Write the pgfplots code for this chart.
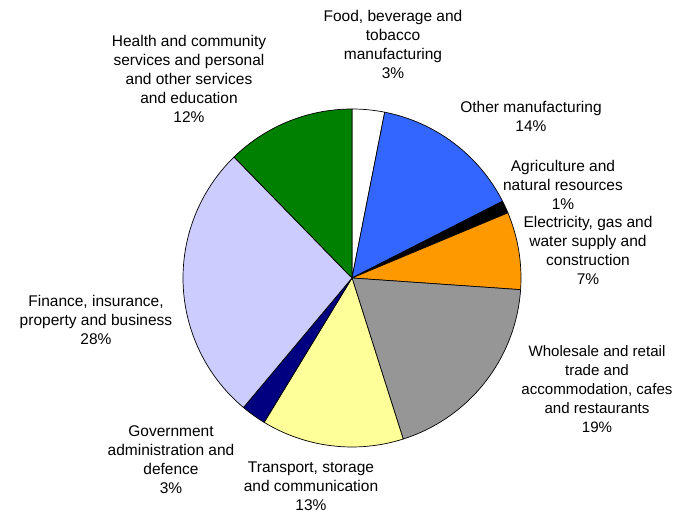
\documentclass[border=0pt]{standalone}
\usepackage{pgfplots}
\usepackage{pgfplotstable}
\pgfplotsset{compat=1.18}
\usepackage{fontspec}
\setmainfont{Liberation Sans}
\definecolor{cManuf}{HTML}{3366FF}
\definecolor{cElec}{HTML}{FF9900}
\definecolor{cWhole}{HTML}{969696}
\definecolor{cTrans}{HTML}{FFFF99}
\definecolor{cGov}{HTML}{000080}
\definecolor{cFin}{HTML}{CCCCFF}
\definecolor{cHealth}{HTML}{008000}

% shares of the pie, clockwise from 12 o'clock (as drawn)
\pgfplotstableread{
value colour
3.1  white
14.4 cManuf
1.2  black
7.4  cElec
19.0 cWhole
13.6 cTrans
2.4  cGov
26.6 cFin
12.3 cHealth
}\piedata

\begin{document}
\begin{tikzpicture}
\begin{axis}[
  x=1pt, y=1pt,
  xmin=0, xmax=675, ymin=0, ymax=513,
  hide axis, clip=false,
]
\coordinate (bl) at (axis cs:0,0);
\coordinate (tr) at (axis cs:675,513);
\def\cum{0}
\pgfplotsforeachungrouped \i in {0,...,8}{%
  \pgfplotstablegetelem{\i}{value}\of\piedata
  \let\v=\pgfplotsretval
  \pgfplotstablegetelem{\i}{colour}\of\piedata
  \let\c=\pgfplotsretval
  \pgfmathsetmacro\a{90-3.6*\cum}%
  \pgfmathsetmacro\b{90-3.6*(\cum+\v)}%
  \edef\temp{\noexpand\filldraw[fill=\c, draw=black, line width=0.7pt, line join=round]
    (axis cs:352,235) -- ++(\a:169pt) arc[start angle=\a, end angle=\b, radius=169pt] -- cycle;}%
  \temp
  \pgfmathsetmacro\cum{\cum+\v}%
}
\tikzset{lab/.style={align=center, font=\fontsize{15.5}{19}\selectfont, inner sep=0pt}}
\node[lab] at (axis cs:393,469) {Food, beverage and\\tobacco\\manufacturing\\3\%};
\node[lab] at (axis cs:531,396.5) {Other manufacturing\\14\%};
\node[lab] at (axis cs:563,328) {Agriculture and\\natural resources\\1\%};
\node[lab] at (axis cs:588,263) {Electricity, gas and\\water supply and\\construction\\7\%};
\node[lab, font=\fontsize{15.1}{19}\selectfont] at (axis cs:597,123.5) {Wholesale and retail\\trade and\\accommodation, cafes\\and restaurants\\19\%};
\node[lab] at (axis cs:311,27) {Transport, storage\\and communication\\13\%};
\node[lab] at (axis cs:171,53) {Government\\administration and\\defence\\3\%};
\node[lab] at (axis cs:96,193) {Finance, insurance,\\property and business\\28\%};
\node[lab] at (axis cs:189,434.5) {Health and community\\services and personal\\and other services\\and education\\12\%};
\end{axis}
\pgfresetboundingbox
\path (bl) rectangle (tr);
\end{tikzpicture}
\end{document}
